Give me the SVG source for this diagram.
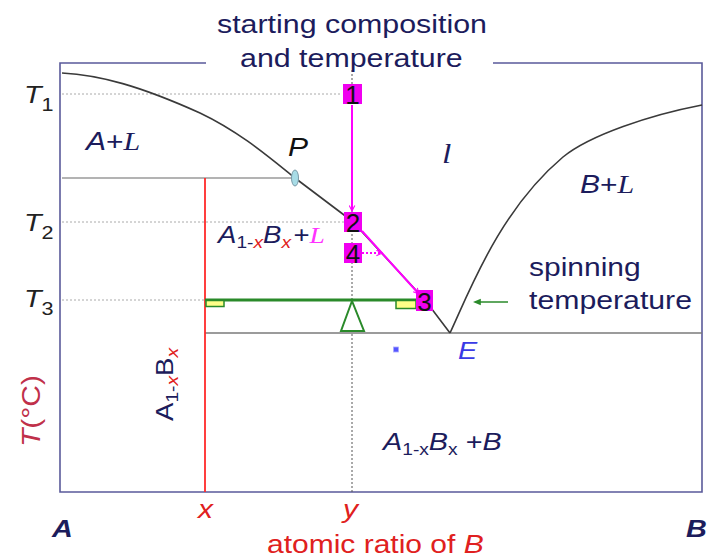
<svg xmlns="http://www.w3.org/2000/svg" width="709" height="559" viewBox="0 0 709 559">
<defs>
<style>
text{font-family:"Liberation Sans",Arial,sans-serif;}
.nv{fill:#1c1c5c;}
.it{font-style:italic;}
.ser{font-family:"Liberation Serif","Times New Roman",serif;font-style:italic;}
.frame{stroke:#5a5a9a;stroke-width:1.6;fill:none;}
.curve{stroke:#3a3a3a;stroke-width:1.6;fill:none;stroke-linejoin:round;}
.gl{stroke:#9a9a9a;stroke-width:1.5;}
.dot{stroke:#aaaaaa;stroke-width:1;stroke-dasharray:2,2;}
.box{fill:#f000f0;}
.num{font-size:26px;fill:#111;text-anchor:middle;}
.mg{stroke:#ff00ff;stroke-width:2;fill:none;}
</style>
<marker id="mArr" viewBox="0 0 10 10" refX="9" refY="5" markerWidth="7" markerHeight="7" orient="auto" markerUnits="userSpaceOnUse">
<path d="M1,1 L9,5 L1,9" fill="none" stroke="#ff00ff" stroke-width="1.6"/>
</marker>
<marker id="gArr" viewBox="0 0 10 10" refX="1" refY="5" markerWidth="8" markerHeight="8" orient="auto-start-reverse" markerUnits="userSpaceOnUse">
<path d="M0,1 L10,5 L0,9 Z" fill="#2a8a2a"/>
</marker>
</defs>
<rect width="709" height="559" fill="#ffffff"/>

<g id="frame">
<path class="frame" d="M206,63 L60,63 L60,492 L702,492 L702,63 L493,63"/>
</g>

<g id="guides">
<line class="dot" x1="62" y1="94" x2="342" y2="94"/>
<line class="dot" x1="62" y1="222" x2="344" y2="222"/>
<line class="dot" x1="62" y1="300" x2="205" y2="300"/>
<line x1="352" y1="70" x2="352" y2="492" stroke="#555" stroke-width="1" stroke-dasharray="2,2"/>
<line class="gl" x1="62" y1="178" x2="293" y2="178"/>
<line class="gl" x1="205" y1="333" x2="702" y2="333" style="stroke:#7a7a7a"/>
<line x1="205" y1="178" x2="205" y2="492" stroke="#ff2a2a" stroke-width="1.8"/>
</g>

<g id="liquidus">
<path class="curve" d="M62,73 C100,75 140,86 200,113 C240,132 270,158 295,178 L352,221 L425,300 L450,333"/>
<path class="curve" d="M450,333 C470,290 500,210 563,157 C590,135 650,115 702,105"/>
</g>

<g id="P">
<ellipse cx="295" cy="178" rx="3.5" ry="8" fill="#a8dce6" stroke="#7a9aa8" stroke-width="1"/>
<text class="it" transform="translate(288,156) scale(1.2,1)" font-size="25" fill="#111">P</text>
</g>

<g id="balance">
<line x1="205" y1="300" x2="416" y2="300" stroke="#2a8a2a" stroke-width="3"/>
<rect x="206" y="300.5" width="18" height="6" fill="#ffff88" stroke="#2a8a2a" stroke-width="1.5"/>
<rect x="396" y="300.5" width="20" height="8" fill="#ffff88" stroke="#2a8a2a" stroke-width="1.5"/>
<path d="M352,301 L341,331 L364,331 Z" fill="#ffffff" stroke="#2a8a2a" stroke-width="2"/>
</g>

<g id="connectors">
<line class="mg" x1="352" y1="105" x2="352" y2="211" marker-end="url(#mArr)"/>
<line class="mg" x1="362" y1="231" x2="419" y2="294" marker-end="url(#mArr)"/>
<line class="mg" x1="362" y1="253" x2="382" y2="253" stroke-dasharray="2,2" stroke-width="1.5" marker-end="url(#mArr)"/>
<line x1="508" y1="302" x2="480" y2="302" stroke="#2a8a2a" stroke-width="1.5" marker-end="url(#gArr)"/>
</g>

<g id="pt1"><rect class="box" x="343" y="84" width="19" height="20"/><text class="num" x="352.5" y="104">1</text></g>
<g id="pt2"><rect class="box" x="344" y="212" width="18" height="20"/><text class="num" x="353" y="232">2</text></g>
<g id="pt4"><rect class="box" x="344" y="243" width="18" height="20"/><text class="num" x="353" y="263">4</text></g>
<g id="pt3"><rect class="box" x="416" y="290" width="17" height="21"/><text class="num" x="424.5" y="311">3</text></g>

<g id="header">
<text class="nv" transform="translate(217,33) scale(1.2,1)" font-size="25.3">starting composition</text>
<text class="nv" transform="translate(240,67) scale(1.2,1)" font-size="25.3">and temperature</text>
</g>

<g id="spin">
<text class="nv" transform="translate(529,276) scale(1.2,1)" font-size="25">spinning</text>
<text class="nv" transform="translate(529,309) scale(1.2,1)" font-size="25.2">temperature</text>
</g>

<g id="tlabels" fill="#222">
<text transform="translate(24,103) scale(1.2,1)" font-size="24" class="it">T<tspan font-style="normal" font-size="18" dy="8">1</tspan></text>
<text transform="translate(24,231) scale(1.2,1)" font-size="24" class="it">T<tspan font-style="normal" font-size="18" dy="8">2</tspan></text>
<text transform="translate(24,307) scale(1.2,1)" font-size="24" class="it">T<tspan font-style="normal" font-size="18" dy="8">3</tspan></text>
</g>

<g id="regions">
<text class="nv" transform="translate(86,150) scale(1.2,1)" font-size="25"><tspan class="it">A</tspan>+<tspan class="ser">L</tspan></text>
<text class="ser nv" transform="translate(442,163) scale(1.2,1)" font-size="28">l</text>
<text class="nv" transform="translate(580,193) scale(1.2,1)" font-size="25"><tspan class="it">B</tspan>+<tspan class="ser">L</tspan></text>
<text class="nv" transform="translate(218,243) scale(1.2,1)" font-size="23"><tspan class="it">A</tspan><tspan font-size="16" dy="5">1-</tspan><tspan font-size="16" class="it" fill="#e02020">x</tspan><tspan class="it" dy="-5">B</tspan><tspan font-size="16" class="it" fill="#e02020" dy="5">x</tspan><tspan dy="-5" dx="2">+</tspan><tspan class="ser" fill="#ff33ff">L</tspan></text>
<text class="it" transform="translate(458,359) scale(1.2,1)" font-size="24" fill="#3a3ae6">E</text>
<rect x="393.5" y="347" width="5" height="5" fill="#5555ff" stroke="#aaaaff" stroke-width="0.8"/>
<text class="nv" transform="translate(383,450) scale(1.2,1)" font-size="24"><tspan class="it">A</tspan><tspan font-size="16" dy="5">1-x</tspan><tspan class="it" dy="-5">B</tspan><tspan font-size="16" dy="5">x</tspan><tspan dy="-5"> +</tspan><tspan class="it">B</tspan></text>
<text class="nv" transform="translate(173,421) rotate(-90) scale(1.2,1)" font-size="23">A<tspan font-size="16" dy="5">1-</tspan><tspan font-size="16" class="it" fill="#e02020">x</tspan><tspan dy="-5">B</tspan><tspan font-size="16" class="it" fill="#e02020" dy="5">x</tspan></text>
</g>

<g id="axes">
<text transform="translate(40,447) rotate(-90) scale(1.2,1)" font-size="25" fill="#c0304a"><tspan class="it">T</tspan>(°C)</text>
<text class="nv it" transform="translate(52,537) scale(1.2,1)" font-size="24" font-weight="bold">A</text>
<text class="it" transform="translate(198,518) scale(1.2,1)" font-size="25" fill="#e02020">x</text>
<text class="it" transform="translate(343,518) scale(1.2,1)" font-size="25" fill="#e02020">y</text>
<text class="nv it" transform="translate(686,537) scale(1.2,1)" font-size="24" font-weight="bold">B</text>
<text transform="translate(267,553) scale(1.2,1)" font-size="25" fill="#e02020">atomic ratio of <tspan class="it">B</tspan></text>
</g>
</svg>
